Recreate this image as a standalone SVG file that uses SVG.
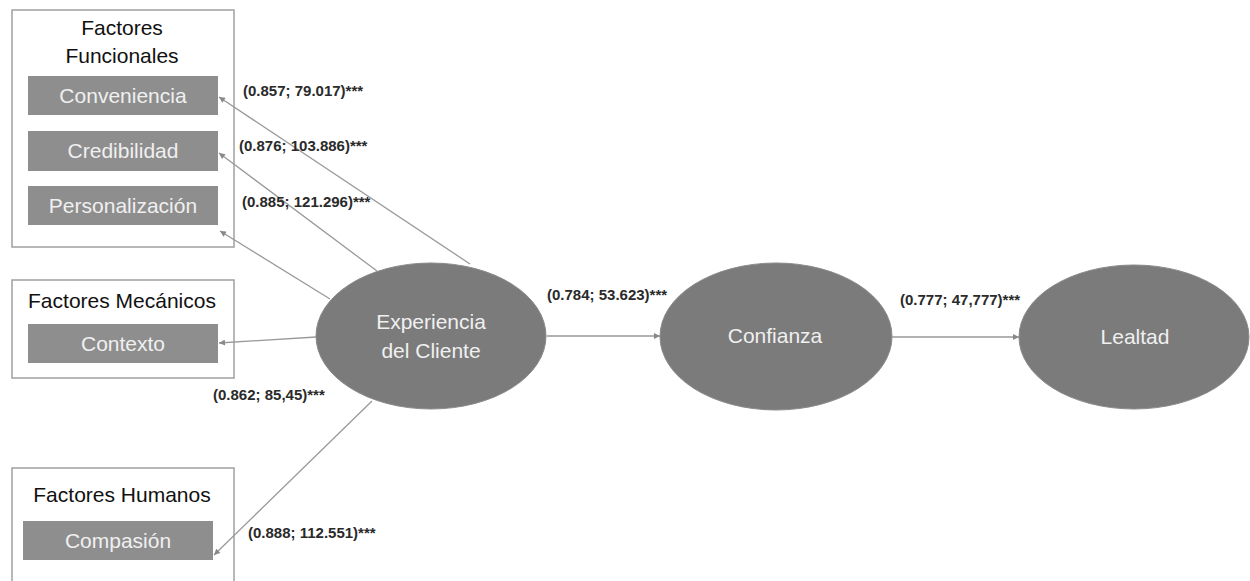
<svg xmlns="http://www.w3.org/2000/svg" width="1250" height="581" viewBox="0 0 1250 581">
<style>
.grp{fill:#fff;stroke:#a0a0a0;stroke-width:1.5}
.ttl{font-family:"Liberation Sans",Arial,sans-serif;font-size:21px;fill:#111;text-anchor:middle}
.ind{fill:#8e8e8e}
.indt{font-family:"Liberation Sans",Arial,sans-serif;font-size:21px;fill:#f0f0f0;text-anchor:middle}
.lat{fill:#7b7b7b;stroke:#8a8a8a;stroke-width:1}
.latt{font-family:"Liberation Sans",Arial,sans-serif;font-size:21px;fill:#f0f0f0;text-anchor:middle}
.con{stroke:#999;stroke-width:1.3;fill:none;marker-end:url(#ah)}
.lbl{font-family:"Liberation Sans",Arial,sans-serif;font-size:15px;font-weight:bold;fill:#2a2a2a}
</style>
<defs>
<marker id="ah" viewBox="0 0 10 10" refX="10" refY="5" markerWidth="7" markerHeight="6" markerUnits="userSpaceOnUse" orient="auto">
<path d="M0,0 L10,5 L0,10 z" fill="#888"/>
</marker>
</defs>
<rect width="1250" height="581" fill="#fff"/>
<g id="factores-funcionales">
<rect class="grp" x="12" y="10" width="222" height="237"/>
<text class="ttl" x="122" y="35">Factores</text>
<text class="ttl" x="122" y="63">Funcionales</text>
</g>
<g id="conveniencia">
<rect class="ind" x="28" y="76" width="190" height="39"/>
<text class="indt" x="123" y="103">Conveniencia</text>
</g>
<g id="credibilidad">
<rect class="ind" x="28" y="131" width="190" height="40"/>
<text class="indt" x="123" y="158">Credibilidad</text>
</g>
<g id="personalizacion">
<rect class="ind" x="28" y="186" width="190" height="39"/>
<text class="indt" x="123" y="213">Personalización</text>
</g>
<g id="factores-mecanicos">
<rect class="grp" x="12" y="280" width="222" height="98"/>
<text class="ttl" x="122" y="308">Factores Mecánicos</text>
</g>
<g id="contexto">
<rect class="ind" x="28" y="324" width="190" height="39"/>
<text class="indt" x="123" y="351">Contexto</text>
</g>
<g id="factores-humanos">
<rect class="grp" x="12" y="468" width="222" height="130"/>
<text class="ttl" x="122" y="502">Factores Humanos</text>
</g>
<g id="compasion">
<rect class="ind" x="23" y="521" width="190" height="39"/>
<text class="indt" x="118" y="548">Compasión</text>
</g>
<g id="experiencia">
<ellipse class="lat" cx="431" cy="336" rx="115" ry="73"/>
<text class="latt" x="431" y="329">Experiencia</text>
<text class="latt" x="431" y="358">del Cliente</text>
</g>
<g id="confianza">
<ellipse class="lat" cx="776" cy="336.5" rx="116" ry="73.5"/>
<text class="latt" x="775" y="343">Confianza</text>
</g>
<g id="lealtad">
<ellipse class="lat" cx="1134" cy="337" rx="115" ry="72"/>
<text class="latt" x="1135" y="344">Lealtad</text>
</g>
<g id="connectors">
<line class="con" x1="470" y1="264" x2="219" y2="97"/>
<line class="con" x1="377" y1="271" x2="219" y2="153"/>
<line class="con" x1="330" y1="299" x2="220" y2="231"/>
<line class="con" x1="316" y1="337" x2="219" y2="343"/>
<line class="con" x1="372" y1="401" x2="214" y2="555"/>
<line class="con" x1="547" y1="336" x2="660" y2="336"/>
<line class="con" x1="892" y1="337" x2="1019" y2="337"/>
</g>
<g id="labels">
<text class="lbl" x="243" y="96">(0.857; 79.017)***</text>
<text class="lbl" x="239" y="151">(0.876; 103.886)***</text>
<text class="lbl" x="242" y="207">(0.885; 121.296)***</text>
<text class="lbl" x="213" y="400">(0.862; 85,45)***</text>
<text class="lbl" x="248" y="538">(0.888; 112.551)***</text>
<text class="lbl" x="547" y="300">(0.784; 53.623)***</text>
<text class="lbl" x="900" y="305">(0.777; 47,777)***</text>
</g>
</svg>
